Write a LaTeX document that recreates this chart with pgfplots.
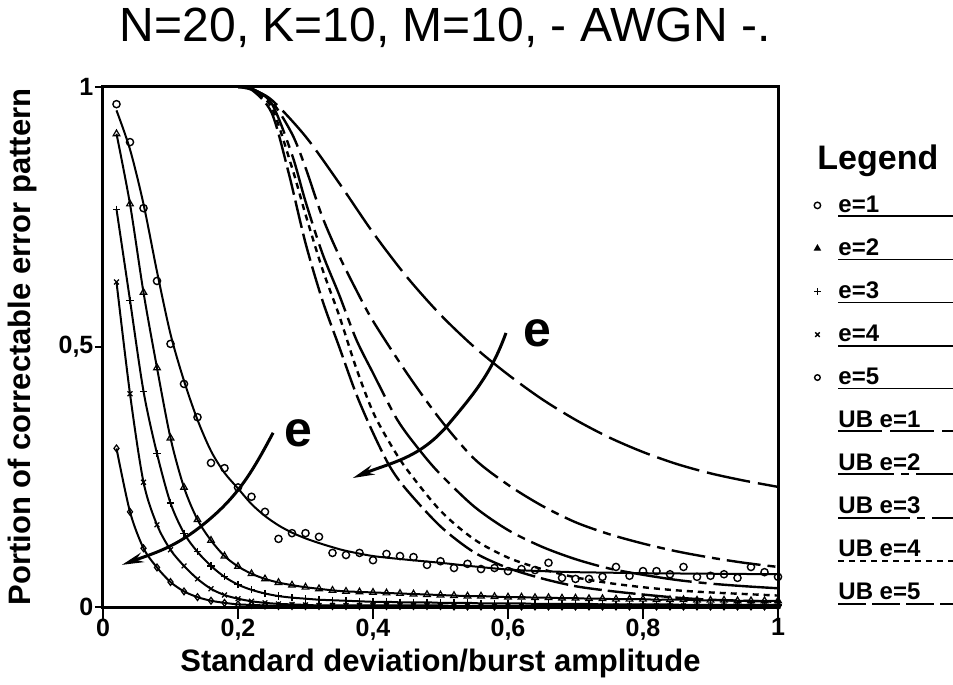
\documentclass[border=0pt]{standalone}
\usepackage{fontspec}
\setmainfont{Liberation Sans}
\usepackage{pgfplots}
\pgfplotsset{compat=1.18}
\usetikzlibrary{arrows.meta}

\pgfplotsset{
  markleg/.style={legend image code/.code={%
      \path[draw=none,fill=none] (-2pt,-2pt) rectangle (2pt,2pt);
      \draw[##1] plot coordinates {(0pt,0pt)};
      \draw[overlay,solid,line width=0.9pt] (10.5pt,-5.5pt) -- (68pt,-5.5pt);}},
  lineleg/.style={legend image code/.code={%
      \path[draw=none,fill=none] (-2pt,-2pt) rectangle (2pt,2pt);
      \draw[overlay,##1] (10.5pt,-5.5pt) -- (68pt,-5.5pt);}},
  curve/.style={black, line width=1pt, smooth, forget plot},
  ub/.style={black, line width=1.2pt, smooth, forget plot},
}

\begin{document}
\begin{tikzpicture}
\path (-51.5pt,-38.5pt) rectangle (425pt,303.5pt);
\begin{axis}[
  at={(0pt,0pt)}, anchor=south west,
  scale only axis, width=337.5pt, height=260pt,
  xmin=0, xmax=1, ymin=0, ymax=1,
  xtick={0,0.2,0.4,0.6,0.8,1},
  xticklabels={0,{0,2},{0,4},{0,6},{0,8},1},
  ytick={0,0.5,1},
  yticklabels={0,{0,5},1},
  xtick pos=left, ytick pos=left,
  tick align=outside,
  xtick style={black, line width=0.9pt, /pgfplots/major tick length=6pt},
  ytick style={black, line width=0.9pt, /pgfplots/major tick length=4pt},
  axis line style={line width=1.5pt},
  tick label style={font=\bfseries\fontsize{12.5}{14}\selectfont},
  xticklabel style={yshift=2pt},
  yticklabel style={xshift=3pt},
  xlabel={Standard deviation/burst amplitude},
  ylabel={Portion of correctable error pattern},
  label style={font=\bfseries\fontsize{15.5}{18}\selectfont},
  xlabel style={at={(axis description cs:0.5,-0.108)}, anchor=center},
  ylabel style={at={(axis description cs:-0.12,0.5)}, anchor=center},
  title={N=20, K=10, M=10, - AWGN -.},
  title style={font=\fontsize{24}{28}\selectfont, at={(axis description cs:0.507,1.09)}, anchor=center},
  legend style={at={(axis description cs:1.0519,0.89)}, anchor=north west,
    draw=none, fill=none, inner sep=0pt, column sep=8.5pt, row sep=11.7pt,
    font=\bfseries\fontsize{12}{14}\selectfont, nodes={inner sep=0pt}},
  legend cell align=left,
]

% ---- upper bounds
\addplot[ub, dash pattern=on 22pt off 4pt] table {
0.20 1.000
0.22 0.995
0.25 0.975
0.30 0.905
0.35 0.815
0.40 0.720
0.45 0.635
0.50 0.562
0.55 0.500
0.60 0.447
0.65 0.400
0.70 0.360
0.75 0.326
0.80 0.298
0.85 0.275
0.90 0.257
0.95 0.243
1.00 0.231
};
\addplot[ub, dash pattern=on 17pt off 3.5pt on 4pt off 3.5pt] table {
0.20 1.000
0.22 0.997
0.25 0.972
0.28 0.910
0.30 0.845
0.325 0.750
0.35 0.675
0.375 0.610
0.40 0.550
0.45 0.450
0.50 0.360
0.55 0.285
0.60 0.235
0.65 0.195
0.70 0.163
0.75 0.140
0.80 0.122
0.85 0.107
0.90 0.095
0.95 0.085
1.00 0.077
};
\addplot[ub, dash pattern=on 36pt off 3.5pt on 4pt off 3.5pt] table {
0.20 1.000
0.22 0.997
0.25 0.968
0.28 0.870
0.30 0.780
0.325 0.680
0.35 0.600
0.375 0.515
0.40 0.450
0.436 0.360
0.47 0.300
0.50 0.255
0.55 0.193
0.60 0.148
0.65 0.116
0.70 0.092
0.75 0.074
0.80 0.062
0.85 0.052
0.90 0.045
0.95 0.040
1.00 0.036
};
\addplot[ub, dash pattern=on 3pt off 2.5pt] table {
0.20 1.000
0.22 0.996
0.25 0.960
0.28 0.845
0.30 0.755
0.325 0.650
0.35 0.560
0.375 0.460
0.40 0.375
0.425 0.315
0.45 0.265
0.50 0.185
0.55 0.130
0.60 0.095
0.65 0.073
0.70 0.057
0.75 0.046
0.80 0.038
0.85 0.032
0.90 0.028
0.95 0.025
1.00 0.022
};
\addplot[ub, dash pattern=on 14pt off 3pt] table {
0.20 1.000
0.22 0.995
0.25 0.950
0.275 0.835
0.30 0.700
0.325 0.590
0.35 0.500
0.375 0.410
0.40 0.335
0.425 0.270
0.45 0.225
0.50 0.155
0.55 0.105
0.60 0.075
0.65 0.055
0.70 0.040
0.75 0.031
0.80 0.024
0.85 0.018
0.90 0.014
0.95 0.012
1.00 0.010
};

% ---- e=1: fitted curve and measured points
\addplot[curve] table {
0.02 0.955
0.04 0.880
0.06 0.775
0.08 0.645
0.10 0.525
0.12 0.435
0.14 0.360
0.16 0.300
0.18 0.258
0.20 0.228
0.22 0.198
0.24 0.175
0.26 0.157
0.28 0.143
0.30 0.132
0.32 0.123
0.34 0.115
0.36 0.108
0.40 0.098
0.45 0.091
0.50 0.085
0.55 0.078
0.60 0.072
0.65 0.069
0.70 0.067
0.75 0.066
0.80 0.065
0.90 0.064
1.00 0.063
};
\addplot[only marks, mark=o, mark size=1.8pt, mark options={line width=0.7pt}, black, forget plot] table {
0.02 0.967
0.04 0.894
0.06 0.767
0.08 0.627
0.10 0.506
0.12 0.429
0.14 0.365
0.16 0.277
0.18 0.267
0.20 0.230
0.22 0.212
0.24 0.183
0.26 0.131
0.28 0.142
0.30 0.142
0.32 0.135
0.34 0.104
0.36 0.100
0.38 0.104
0.40 0.090
0.42 0.102
0.44 0.098
0.46 0.096
0.48 0.081
0.50 0.088
0.52 0.075
0.54 0.083
0.56 0.073
0.58 0.075
0.60 0.069
0.62 0.073
0.64 0.071
0.66 0.085
0.68 0.056
0.70 0.054
0.72 0.054
0.74 0.058
0.76 0.077
0.78 0.060
0.80 0.069
0.82 0.069
0.84 0.063
0.86 0.077
0.88 0.058
0.90 0.060
0.92 0.063
0.94 0.056
0.96 0.077
0.98 0.067
1.00 0.058
};

% ---- e=2
\addplot[curve, mark=triangle, mark size=1.9pt, mark options={solid, line width=0.6pt}] table {
0.02 0.910
0.04 0.775
0.06 0.605
0.08 0.460
0.10 0.325
0.12 0.230
0.14 0.168
0.16 0.128
0.18 0.098
0.20 0.078
0.22 0.064
0.24 0.054
0.26 0.047
0.28 0.042
0.30 0.038
0.32 0.035
0.34 0.032
0.36 0.030
0.38 0.029
0.40 0.028
0.42 0.027
0.44 0.026
0.46 0.025
0.48 0.024
0.50 0.023
0.52 0.022
0.54 0.021
0.56 0.021
0.58 0.020
0.60 0.019
0.62 0.019
0.64 0.018
0.66 0.018
0.68 0.017
0.70 0.017
0.72 0.016
0.74 0.016
0.76 0.015
0.78 0.015
0.80 0.015
0.82 0.014
0.84 0.014
0.86 0.014
0.88 0.013
0.90 0.013
0.92 0.013
0.94 0.012
0.96 0.012
0.98 0.012
1.00 0.012
};

% ---- e=3
\addplot[curve, mark=+, mark size=1.8pt, mark options={solid, line width=0.6pt}] table {
0.02 0.765
0.04 0.590
0.06 0.415
0.08 0.295
0.10 0.200
0.12 0.142
0.14 0.106
0.16 0.079
0.18 0.058
0.20 0.043
0.22 0.033
0.24 0.026
0.26 0.021
0.28 0.018
0.30 0.016
0.32 0.014
0.34 0.013
0.36 0.012
0.38 0.011
0.40 0.010
0.42 0.010
0.44 0.009
0.46 0.009
0.48 0.009
0.50 0.008
0.52 0.008
0.54 0.008
0.56 0.007
0.58 0.007
0.60 0.007
0.62 0.007
0.64 0.006
0.66 0.006
0.68 0.006
0.70 0.006
0.72 0.006
0.74 0.005
0.76 0.005
0.78 0.005
0.80 0.005
0.82 0.005
0.84 0.005
0.86 0.004
0.88 0.004
0.90 0.004
0.92 0.004
0.94 0.004
0.96 0.004
0.98 0.004
1.00 0.004
};

% ---- e=4
\addplot[curve, mark=x, mark size=1.7pt, mark options={solid, line width=0.6pt}] table {
0.02 0.625
0.04 0.410
0.06 0.240
0.08 0.158
0.10 0.110
0.12 0.079
0.14 0.054
0.16 0.035
0.18 0.023
0.20 0.016
0.22 0.011
0.24 0.008
0.26 0.006
0.28 0.005
0.30 0.004
0.32 0.003
0.34 0.003
0.36 0.003
0.38 0.003
0.40 0.003
0.42 0.003
0.44 0.003
0.46 0.003
0.48 0.003
0.50 0.003
0.52 0.002
0.54 0.002
0.56 0.002
0.58 0.002
0.60 0.002
0.62 0.002
0.64 0.002
0.66 0.002
0.68 0.002
0.70 0.002
0.72 0.002
0.74 0.002
0.76 0.002
0.78 0.002
0.80 0.002
0.82 0.002
0.84 0.002
0.86 0.002
0.88 0.002
0.90 0.002
0.92 0.002
0.94 0.002
0.96 0.002
0.98 0.002
1.00 0.002
};

% ---- e=5
\addplot[curve, mark=diamond, mark size=1.7pt, mark options={solid, line width=0.6pt}] table {
0.02 0.305
0.04 0.183
0.06 0.113
0.08 0.076
0.10 0.048
0.12 0.030
0.14 0.019
0.16 0.012
0.18 0.008
0.20 0.005
0.22 0.004
0.24 0.003
0.26 0.002
0.28 0.002
0.30 0.002
0.32 0.002
0.34 0.002
0.36 0.002
0.38 0.002
0.40 0.002
0.42 0.002
0.44 0.002
0.46 0.002
0.48 0.002
0.50 0.002
0.52 0.001
0.54 0.001
0.56 0.001
0.58 0.001
0.60 0.001
0.62 0.001
0.64 0.001
0.66 0.001
0.68 0.001
0.70 0.001
0.72 0.001
0.74 0.001
0.76 0.001
0.78 0.001
0.80 0.001
0.82 0.001
0.84 0.001
0.86 0.001
0.88 0.001
0.90 0.001
0.92 0.001
0.94 0.001
0.96 0.001
0.98 0.001
1.00 0.001
};

% ---- annotation arrows
\draw[line width=1.5pt, -{Stealth[length=11pt,width=5pt]}]
  (axis cs:0.252,0.335) to[out=-118,in=38] (axis cs:0.144,0.154)
  to[out=218,in=20] (axis cs:0.028,0.081);
\draw[line width=1.5pt, -{Stealth[length=11pt,width=5pt]}]
  (axis cs:0.597,0.527) to[out=-110,in=50] (axis cs:0.507,0.344)
  to[out=228,in=22] (axis cs:0.37,0.248);
\node[font=\bfseries\fontsize{25}{28}\selectfont] at (axis cs:0.29,0.335) {e};
\node[font=\bfseries\fontsize{25}{28}\selectfont] at (axis cs:0.643,0.527) {e};

% ---- legend
\addlegendimage{empty legend}
\addlegendentry{\hspace*{-10.5pt}\fontsize{17}{20}\selectfont Legend}
\addlegendimage{markleg, black, mark=o, mark size=1.6pt, line width=0.7pt}
\addlegendentry{e=1}
\addlegendimage{markleg, black, mark=triangle*, mark size=1.6pt, line width=0.6pt}
\addlegendentry{e=2}
\addlegendimage{markleg, black, mark=+, mark size=1.6pt, line width=0.7pt}
\addlegendentry{e=3}
\addlegendimage{markleg, black, mark=x, mark size=1.6pt, line width=0.7pt}
\addlegendentry{e=4}
\addlegendimage{markleg, black, mark=o, mark size=1.4pt, line width=0.7pt}
\addlegendentry{e=5}
\addlegendimage{lineleg, black, line width=1pt, dash pattern=on 22pt off 4pt}
\addlegendentry{UB e=1}
\addlegendimage{lineleg, black, line width=1pt, dash pattern=on 28pt off 3.5pt on 4pt off 3.5pt}
\addlegendentry{UB e=2}
\addlegendimage{lineleg, black, line width=1pt, dash pattern=on 36pt off 3.5pt on 4pt off 3.5pt}
\addlegendentry{UB e=3}
\addlegendimage{lineleg, black, line width=1pt, dash pattern=on 3pt off 2.5pt}
\addlegendentry{UB e=4}
\addlegendimage{lineleg, black, line width=1pt, dash pattern=on 14pt off 3pt}
\addlegendentry{UB e=5}
\end{axis}
\end{tikzpicture}
\end{document}
